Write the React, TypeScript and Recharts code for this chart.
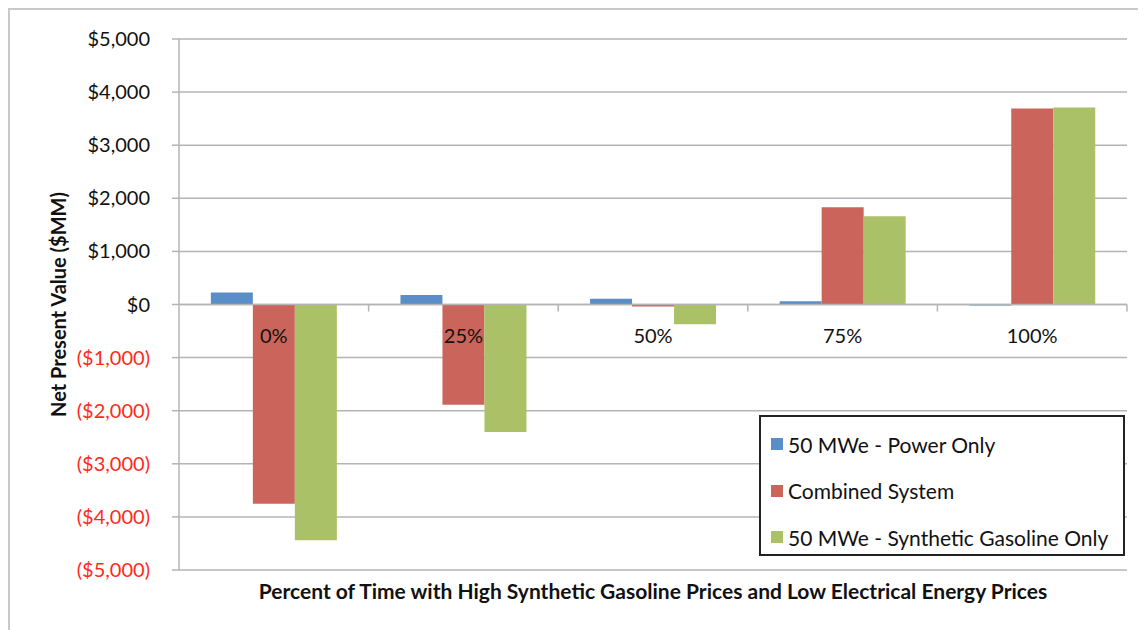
import {
  BarChart,
  Bar,
  XAxis,
  YAxis,
  CartesianGrid,
  ReferenceLine,
  Legend,
} from "recharts";

const categories = ["0%", "25%", "50%", "75%", "100%"];
const powerOnly = [225, 180, 110, 60, -20];
const combinedSystem = [-3750, -1890, -40, 1830, 3690];
const gasolineOnly = [-4440, -2400, -370, 1660, 3710];
const yTicks = [-5000, -4000, -3000, -2000, -1000, 0, 1000, 2000, 3000, 4000, 5000];

const seriesNames = [
  "50 MWe - Power Only",
  "Combined System",
  "50 MWe - Synthetic Gasoline Only",
];
const colors = ["#5a8ec8", "#cb655b", "#abc167"];

const data = categories.map((cat, i) => ({
  cat,
  power: powerOnly[i],
  combined: combinedSystem[i],
  gasoline: gasolineOnly[i],
}));

const W = 1136;
const H = 620;
const M = { top: 29, right: 19, bottom: 20, left: 0 };
const Y_W = 169;
const X_H = 40;
const PLOT_W = W - M.left - M.right - Y_W;
const PLOT_H = H - M.top - M.bottom - X_H;
const Y_MIN = -5000;
const Y_MAX = 5000;
const ZERO_Y = M.top + (PLOT_H * Y_MAX) / (Y_MAX - Y_MIN);
const BAND = PLOT_W / categories.length;

const FONT = "Lato, 'Open Sans', sans-serif";
const GRID = "#b4b4b4";

function fmt(v: number) {
  const s = "$" + Math.abs(v).toLocaleString("en-US");
  return v < 0 ? `(${s})` : s;
}

function YTick(props: any) {
  const { x, y, payload } = props;
  const v = payload.value;
  return (
    <text
      x={x}
      y={y}
      dy={7}
      textAnchor="end"
      fontFamily={FONT}
      fontSize={20}
      fill={v < 0 ? "#ff2a1a" : "#111"}
    >
      {fmt(v)}
    </text>
  );
}

function XTick(props: any) {
  const { x, payload } = props;
  return (
    <g>
      <line
        x1={x + BAND / 2}
        x2={x + BAND / 2}
        y1={ZERO_Y}
        y2={ZERO_Y + 7}
        stroke={GRID}
        strokeWidth={1.5}
      />
      <text
        x={x}
        y={ZERO_Y + 38}
        textAnchor="middle"
        fontFamily={FONT}
        fontSize={20}
        fill="#111"
      >
        {payload.value}
      </text>
    </g>
  );
}

function YTitle(props: any) {
  const vb = props.viewBox;
  const cx = 56;
  const cy = vb.y + vb.height / 2;
  return (
    <text
      x={cx}
      y={cy}
      transform={`rotate(-90 ${cx} ${cy})`}
      textAnchor="middle"
      fontFamily={FONT}
      fontWeight="bold"
      fontSize={20}
      fill="#111"
    >
      Net Present Value ($MM)
    </text>
  );
}

function LegendBox() {
  return (
    <div
      style={{
        border: "2px solid #222",
        background: "#fff",
        padding: "4px 0 0 10px",
        boxSizing: "border-box",
        width: 366,
        height: 141,
        fontFamily: FONT,
        fontSize: 21,
        color: "#111",
      }}
    >
      {seriesNames.map((name, i) => (
        <div
          key={name}
          style={{ display: "flex", alignItems: "center", height: 46.5 }}
        >
          <span
            style={{
              width: 12,
              height: 12,
              background: colors[i],
              marginRight: 5,
              display: "inline-block",
            }}
          />
          {name}
        </div>
      ))}
    </div>
  );
}

export default function App() {
  return (
    <div
      style={{
        position: "relative",
        width: 1150,
        height: 640,
        borderTop: "2px solid #c8c8c8",
        borderLeft: "2px solid #c8c8c8",
        boxSizing: "border-box",
      }}
    >
      <BarChart
        width={W}
        height={H}
        data={data}
        margin={M}
        barGap={0}
        barCategoryGap="16.8%"
      >
        <CartesianGrid vertical={false} stroke={GRID} strokeWidth={1.5} />
        <Bar dataKey="power" name={seriesNames[0]} fill={colors[0]} isAnimationActive={false} />
        <Bar dataKey="combined" name={seriesNames[1]} fill={colors[1]} isAnimationActive={false} />
        <Bar dataKey="gasoline" name={seriesNames[2]} fill={colors[2]} isAnimationActive={false} />
        <ReferenceLine y={0} stroke={GRID} strokeWidth={1.5} />
        <YAxis
          width={Y_W}
          domain={[Y_MIN, Y_MAX]}
          ticks={yTicks}
          interval={0}
          stroke={GRID}
          strokeWidth={1.5}
          tickSize={7}
          tickMargin={22}
          tick={<YTick />}
          label={<YTitle />}
        />
        <XAxis
          dataKey="cat"
          height={X_H}
          axisLine={false}
          tickLine={false}
          tick={<XTick />}
          interval={0}
          label={{
            value:
              "Percent of Time with High Synthetic Gasoline Prices and Low Electrical Energy Prices",
            position: "insideBottom",
            offset: 11,
            fontFamily: FONT,
            fontWeight: "bold",
            fontSize: 21,
            fill: "#111",
          }}
        />
        <Legend
          layout="vertical"
          align="center"
          verticalAlign="middle"
          content={<LegendBox />}
          wrapperStyle={{ left: 749, top: 405, width: 366, height: 141 }}
        />
      </BarChart>
    </div>
  );
}
